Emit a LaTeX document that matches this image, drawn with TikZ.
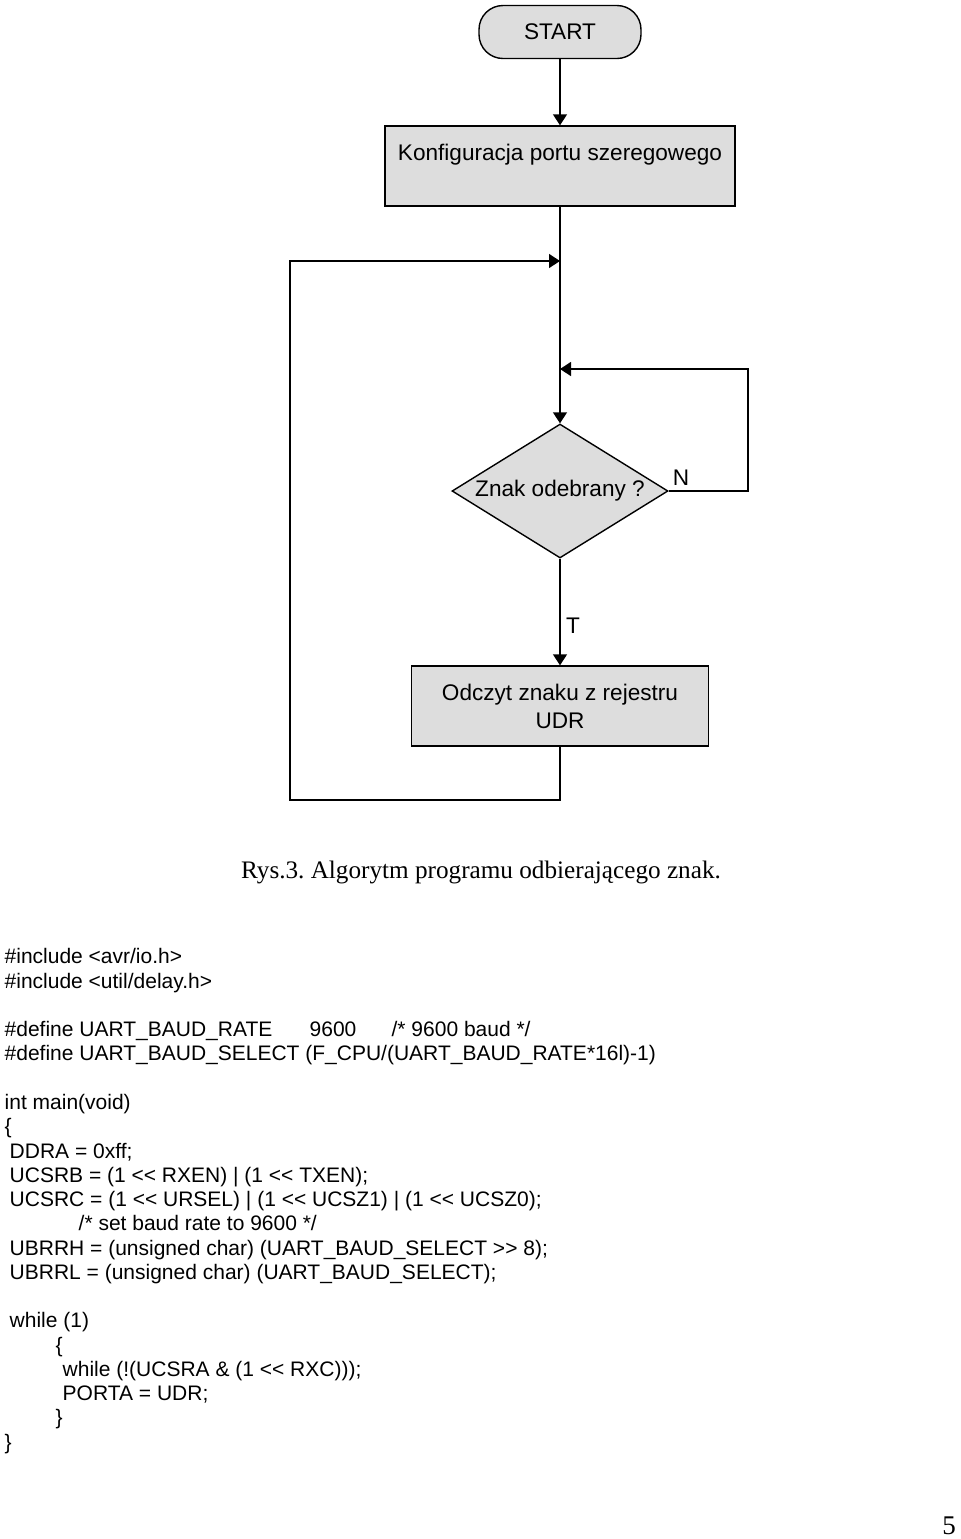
\documentclass[tikz,border=0pt]{standalone}
\usepackage{fontspec}
\setmainfont{Liberation Serif}
\setsansfont{Liberation Sans}
\usetikzlibrary{shapes.geometric}
\usetikzlibrary{positioning}
\usetikzlibrary{arrows.meta}
\definecolor{boxgray}{RGB}{221,221,221}
\newcommand{\shiftl}{<\kern0pt<}
\newcommand{\shiftr}{>\kern0pt>}
\frenchspacing

\begin{document}
\begin{tikzpicture}[x=0.5pt,y=-0.5pt,line width=0.7pt,
  every node/.style={font=\sffamily\fontsize{11.3}{14}\selectfont},
  termbox/.style={draw, fill=boxgray, rounded corners=12pt, minimum width=81pt, minimum height=26.5pt, inner sep=0pt},
  procbox/.style={draw, fill=boxgray, rectangle, align=center, minimum height=40pt, inner sep=0pt},
  decbox/.style={draw, fill=boxgray, diamond, shape aspect=1.6, minimum width=108pt, minimum height=67pt, inner sep=0pt},
  arr/.style={-{Triangle[length=5.5pt,width=7pt]}}]
            \useasboundingbox (0,0) rectangle (960,1539);

            % flowchart
            \node[termbox] (start) at (560,32) {START};
            \node[procbox, minimum width=175pt] (konf) at (560,166) {Konfiguracja portu szeregowego\\ \mbox{}};
            \node[decbox] (dec) at (560,491) {Znak odebrany ?};
            \node[procbox, minimum width=148.5pt] (odczyt) at (560,706) {Odczyt znaku z rejestru\\UDR};

            \coordinate (join1) at (560,261);
            \coordinate (join2) at (560,369);
            \coordinate (nturn) at (748,491);
            \coordinate (loopbl) at (290,800);

            \node (nlab) at (681,478) {N};
            \node (tlab) at (573,626) {T};

            \draw[arr] (start) -- (konf);
            \draw[arr] (konf) -- (dec);
            \draw[arr] (dec) -- (odczyt);
            \draw[arr] (dec.east) -- (nturn) |- (join2);
            \draw[arr] (odczyt) |- (loopbl) |- (join1);

            % caption
            \node[font=\rmfamily\fontsize{12.6}{15}\selectfont] (caption) at (481,872) {Rys.3. Algorytm programu odbierającego znak.};

            % program listing
            \node[anchor=north west, align=left, inner sep=0pt, font=\sffamily\fontsize{10.5}{12.13}\selectfont] (code) at (4,948) {%
\#include \textless avr/io.h\textgreater\\
\#include \textless util/delay.h\textgreater\\[12.13pt]
\makebox[152.5pt][l]{\#define UART\_BAUD\_RATE}\makebox[41pt][l]{9600}/* 9600 baud */\\
\#define UART\_BAUD\_SELECT (F\_CPU/(UART\_BAUD\_RATE*16l)-1)\\[12.13pt]
int main(void)\\
\{\\
\hspace*{2.5pt}DDRA = 0xff;\\
\hspace*{2.5pt}UCSRB = (1 \shiftl{} RXEN) | (1 \shiftl{} TXEN);\\
\hspace*{2.5pt}UCSRC = (1 \shiftl{} URSEL) | (1 \shiftl{} UCSZ1) | (1 \shiftl{} UCSZ0);\\
\hspace*{37pt}/* set baud rate to 9600 */\\
\hspace*{2.5pt}UBRRH = (unsigned char) (UART\_BAUD\_SELECT \shiftr{} 8);\\
\hspace*{2.5pt}UBRRL = (unsigned char) (UART\_BAUD\_SELECT);\\[12.13pt]
\hspace*{2.5pt}while (1)\\
\hspace*{25.5pt}\{\\
\hspace*{29pt}while (!(UCSRA \& (1 \shiftl{} RXC)));\\
\hspace*{29pt}PORTA = UDR;\\
\hspace*{25.5pt}\}\\
\}};

            % page number
            \node[font=\rmfamily\fontsize{13.5}{16}\selectfont] (pagenum) at (949,1526) {5};
        \end{tikzpicture}
\end{document}
